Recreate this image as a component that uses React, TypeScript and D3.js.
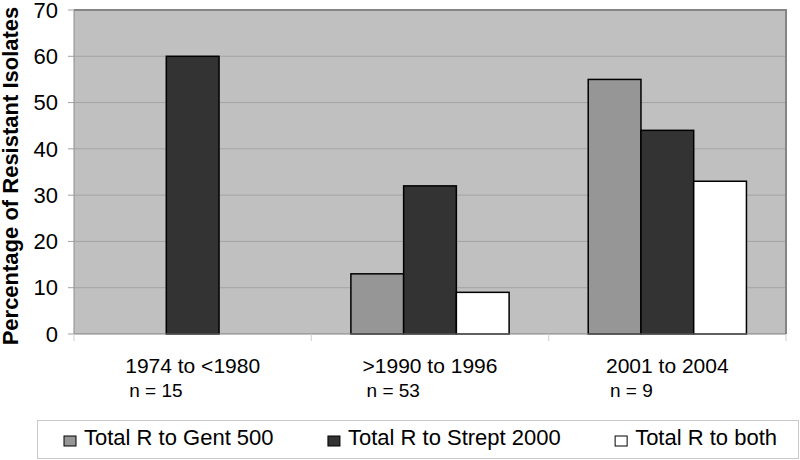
import React, { useEffect, useRef } from 'react';
import * as d3 from 'd3';

const categories = ['1974 to <1980', '>1990 to 1996', '2001 to 2004'];
const sampleSizes = ['n = 15', 'n = 53', 'n = 9'];
const seriesNames = ['Total R to Gent 500', 'Total R to Strept 2000', 'Total R to both'];
const gentValues = [null, 13, 55];
const streptValues = [60, 32, 44];
const bothValues = [null, 9, 33];
const seriesColors = ['#969696', '#333333', '#ffffff'];
const yTicks = [0, 10, 20, 30, 40, 50, 60, 70];

const FONT = '"Liberation Sans", Arial, sans-serif';

const App = () => {
  const svgRef = useRef<SVGSVGElement>(null);

  useEffect(() => {
    document.body.style.margin = '0';
    const svg = d3.select(svgRef.current);
    svg.selectAll('*').remove();

    const plot = { left: 74, right: 786, top: 10, bottom: 334 };
    const seriesValues = [gentValues, streptValues, bothValues];

    const x0 = d3.scaleBand().domain(categories).range([plot.left, plot.right]);
    const x1 = d3
      .scaleBand()
      .domain(seriesNames)
      .range([0, x0.bandwidth()])
      .paddingInner(0)
      .paddingOuter(0.75);
    const y = d3.scaleLinear().domain([0, 70]).range([plot.bottom, plot.top]);

    // plot background
    svg.append('rect')
      .attr('x', plot.left)
      .attr('y', plot.top)
      .attr('width', plot.right - plot.left)
      .attr('height', plot.bottom - plot.top)
      .attr('fill', '#c0c0c0');

    // gridlines
    svg.selectAll('.grid')
      .data(yTicks.filter((t) => t > 0 && t < 70))
      .enter()
      .append('line')
      .attr('x1', plot.left)
      .attr('x2', plot.right)
      .attr('y1', (d) => y(d))
      .attr('y2', (d) => y(d))
      .attr('stroke', '#a4a4a4')
      .attr('stroke-width', 1);

    // top and right border of plot area
    svg.append('path')
      .attr('d', `M${plot.left},${plot.top}H${plot.right}V${plot.bottom}`)
      .attr('fill', 'none')
      .attr('stroke', '#858585')
      .attr('stroke-width', 2);

    // bars
    const rows = categories.flatMap((cat, i) =>
      seriesNames.map((s, j) => ({ cat, s, j, value: seriesValues[j][i] }))
    );
    svg.selectAll('.bar')
      .data(rows.filter((d) => d.value != null))
      .enter()
      .append('rect')
      .attr('x', (d) => (x0(d.cat) as number) + (x1(d.s) as number))
      .attr('y', (d) => y(d.value as number))
      .attr('width', x1.bandwidth())
      .attr('height', (d) => y(0) - y(d.value as number))
      .attr('fill', (d) => seriesColors[d.j])
      .attr('stroke', '#000')
      .attr('stroke-width', 1.5);

    // y axis
    svg.append('line')
      .attr('x1', plot.left)
      .attr('x2', plot.left)
      .attr('y1', plot.top)
      .attr('y2', plot.bottom)
      .attr('stroke', '#8c8c8c');
    svg.selectAll('.ytick')
      .data(yTicks)
      .enter()
      .append('line')
      .attr('x1', plot.left - 6)
      .attr('x2', plot.left)
      .attr('y1', (d) => y(d))
      .attr('y2', (d) => y(d))
      .attr('stroke', '#a0a0a0');
    svg.selectAll('.ylabel')
      .data(yTicks)
      .enter()
      .append('text')
      .attr('x', 58)
      .attr('y', (d) => y(d))
      .attr('dy', '0.35em')
      .attr('text-anchor', 'end')
      .style('font-family', FONT)
      .style('font-size', '22px')
      .attr('fill', '#000')
      .text((d) => d);

    // x axis
    svg.append('line')
      .attr('x1', plot.left)
      .attr('x2', plot.right)
      .attr('y1', plot.bottom)
      .attr('y2', plot.bottom)
      .attr('stroke', '#808080');
    const boundaries = categories.map((c) => x0(c) as number).concat([plot.right]);
    svg.selectAll('.xtick')
      .data(boundaries)
      .enter()
      .append('line')
      .attr('x1', (d) => d)
      .attr('x2', (d) => d)
      .attr('y1', plot.bottom)
      .attr('y2', plot.bottom + 7)
      .attr('stroke', '#d0d0d0');

    categories.forEach((cat, i) => {
      const cx = (x0(cat) as number) + x0.bandwidth() / 2;
      const label = svg.append('text')
        .attr('x', cx)
        .attr('y', 373)
        .attr('text-anchor', 'middle')
        .style('font-family', FONT)
        .style('font-size', '21px')
        .text(cat);
      const w = (label.node() as SVGTextElement).getComputedTextLength();
      svg.append('text')
        .attr('x', cx - w / 2 + 4)
        .attr('y', 397)
        .style('font-family', FONT)
        .style('font-size', '19px')
        .text(sampleSizes[i]);
    });

    // y axis title
    svg.append('text')
      .attr('transform', `translate(18,${(plot.top + plot.bottom) / 2 + 4}) rotate(-90)`)
      .attr('text-anchor', 'middle')
      .style('font-family', FONT)
      .style('font-size', '22px')
      .style('font-weight', 'bold')
      .text('Percentage of Resistant Isolates');

    // legend
    const legendBox = { x: 37, y: 420, w: 762, h: 39 };
    svg.append('rect')
      .attr('x', legendBox.x + 0.5)
      .attr('y', legendBox.y + 0.5)
      .attr('width', legendBox.w - 1)
      .attr('height', legendBox.h - 1)
      .attr('fill', '#fff')
      .attr('stroke', '#c8c8c8');

    const items = seriesNames.map((name, j) => {
      const g = svg.append('g');
      g.append('rect')
        .attr('x', 0)
        .attr('y', 436)
        .attr('width', 12)
        .attr('height', 10)
        .attr('fill', seriesColors[j])
        .attr('stroke', '#000')
        .attr('stroke-width', 1);
      const t = g.append('text')
        .attr('x', 20)
        .attr('y', 445)
        .style('font-family', FONT)
        .style('font-size', '22px')
        .text(name);
      const w = (t.node() as SVGTextElement).getComputedTextLength();
      return { g, w: 20 + w };
    });
    const start = 64;
    const end = 777;
    const totalW = d3.sum(items, (d) => d.w);
    const gap = (end - start - totalW) / (items.length - 1);
    let cursor = start;
    items.forEach((it) => {
      it.g.attr('transform', `translate(${cursor},0)`);
      cursor += it.w + gap;
    });
  }, []);

  return (
    <div style={{ width: 800, height: 460, background: '#fff' }}>
      <svg ref={svgRef} width={800} height={460} style={{ display: 'block' }} />
    </div>
  );
};

export default App;
